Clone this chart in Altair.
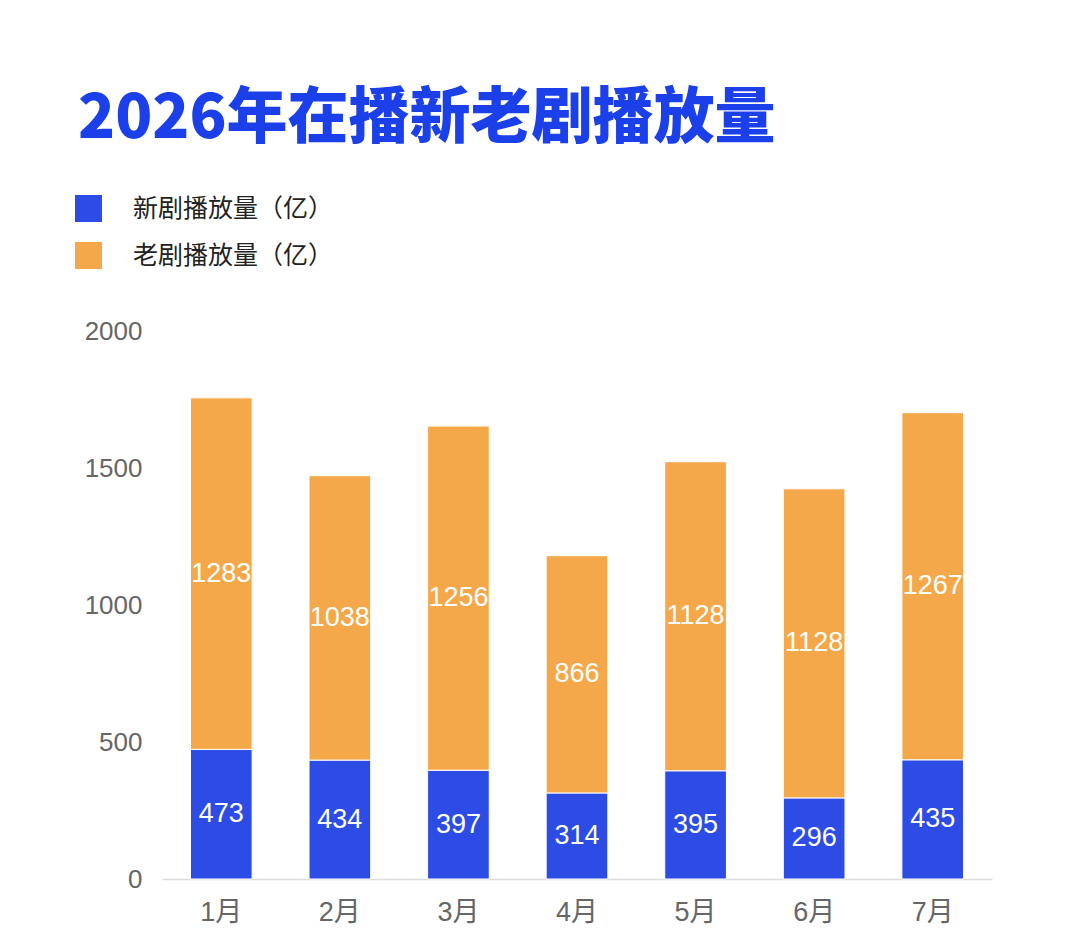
import altair as alt
import pandas as pd

months = ["1月", "2月", "3月", "4月", "5月", "6月", "7月"]
new_views = [473, 434, 397, 314, 395, 296, 435]
old_views = [1283, 1038, 1256, 866, 1128, 1128, 1267]
series = ["新剧播放量（亿）", "老剧播放量（亿）"]
colors = ["#2c4ce5", "#f5a84a"]
y_ticks = [0, 500, 1000, 1500, 2000]

rows = []
for m, n, o in zip(months, new_views, old_views):
    rows.append({"month": m, "series": series[0], "value": n, "ord": 0})
    rows.append({"month": m, "series": series[1], "value": o, "ord": 1})
df = pd.DataFrame(rows)

FONT = "Liberation Sans, Noto Sans CJK SC"

base = alt.Chart(df).transform_stack(
    stack="value", groupby=["month"], as_=["y0", "y1"],
    sort=[alt.SortField("ord", order="ascending")]
).transform_calculate(mid="(datum.y0 + datum.y1) / 2")

x_enc = alt.X("month:N", sort=months, title=None,
              scale=alt.Scale(paddingInner=0.48, paddingOuter=0.24),
              axis=alt.Axis(labelAngle=0, ticks=False, domainColor="#dcdcdc",
                            domainWidth=1.5, labelFontSize=27, labelColor="#666666",
                            labelFont=FONT, labelPadding=20, grid=False))
y_scale = alt.Scale(domain=[0, 2000], nice=False)

bars = base.mark_bar(stroke="white", strokeWidth=1).encode(
    x=x_enc,
    y=alt.Y("y0:Q", scale=y_scale, title=None,
            axis=alt.Axis(values=y_ticks, format="d", domain=False, ticks=False, grid=False,
                          labelFontSize=26, labelColor="#666666", labelFont=FONT,
                          labelPadding=20)),
    y2="y1:Q",
    color=alt.Color("series:N", scale=alt.Scale(domain=series, range=colors),
                    sort=series,
                    legend=alt.Legend(title=None, orient="none", legendX=-87, legendY=-136,
                                      symbolType="square", symbolSize=729,
                                      symbolStrokeWidth=0, labelFontSize=25,
                                      labelFont="Noto Sans CJK SC", labelColor="#222222",
                                      labelOffset=31, rowPadding=20, padding=0,
                                      labelLimit=0, direction="vertical")),
)

labels = base.mark_text(color="white", fontSize=27, font=FONT, baseline="middle").encode(
    x=alt.X("month:N", sort=months),
    y=alt.Y("mid:Q", scale=y_scale),
    text=alt.Text("value:Q"),
)

chart = alt.layer(bars, labels).properties(
    width=830, height=548,
    autosize=alt.AutoSizeParams(type="none"),
    padding={"left": 154, "top": 323, "right": 80, "bottom": 64},
    background="white",
    title=alt.Title("2026年在播新老剧播放量", anchor="start", frame="group",
                    fontSize=61, font="Noto Sans CJK SC", fontWeight=900,
                    color="#1b3fe8", dx=-84, offset=44),
).configure_view(stroke=None)

chart.save("out.html", embed_options={"renderer": "svg", "actions": False})
